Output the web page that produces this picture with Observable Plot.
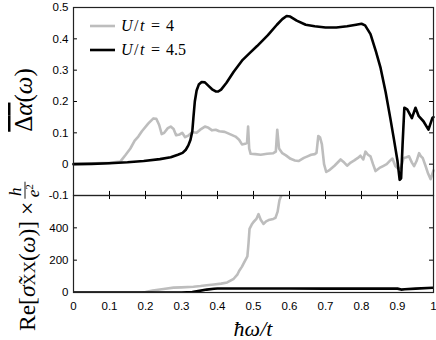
<!DOCTYPE html>
<html><head><meta charset="utf-8">
<script src="https://cdn.jsdelivr.net/npm/d3@7"></script>
<script src="https://cdn.jsdelivr.net/npm/@observablehq/plot@0.6"></script>
<style>
body{margin:0;background:#fff;}
#wrap{position:relative;width:436px;height:340px;overflow:hidden;background:#fff;}
#wrap svg{position:absolute;left:0;overflow:visible;background:transparent;}
</style></head><body><div id="wrap"></div>
<script>
// ---- tick values ----
const xTicks = [0, 0.1, 0.2, 0.3, 0.4, 0.5, 0.6, 0.7, 0.8, 0.9, 1];
const topYTicks = [-0.1, 0, 0.1, 0.2, 0.3, 0.4, 0.5];
const botYTicks = [0, 200, 400];
const seriesNames = ["U/t = 4", "U/t = 4.5"];
const seriesColors = ["#bdbdbd", "#000000"];

// ---- top panel: averaged Δα(ω) ----
const alphaU4 = [
  [0,0],[0.1,0.004],[0.13,0.008],[0.145,0.03],[0.158,0.05],[0.17,0.075],[0.18,0.088],[0.19,0.105],
  [0.208,0.13],[0.222,0.146],[0.23,0.145],[0.238,0.125],[0.245,0.096],[0.252,0.1],[0.262,0.115],
  [0.27,0.12],[0.278,0.112],[0.285,0.092],[0.295,0.095],[0.302,0.1],[0.31,0.086],[0.32,0.092],
  [0.33,0.102],[0.342,0.1],[0.352,0.11],[0.365,0.12],[0.375,0.116],[0.385,0.108],[0.395,0.11],
  [0.405,0.105],[0.42,0.103],[0.436,0.095],[0.45,0.088],[0.46,0.078],[0.468,0.063],[0.477,0.065],
  [0.482,0.068],[0.485,0.12],[0.488,0.05],[0.492,0.033],[0.505,0.032],[0.52,0.03],[0.538,0.033],
  [0.555,0.035],[0.562,0.04],[0.566,0.11],[0.571,0.05],[0.58,0.035],[0.59,0.028],[0.603,0.017],
  [0.615,0.012],[0.625,0.01],[0.64,0.02],[0.65,0.025],[0.66,0.03],[0.67,0.032],[0.675,0.036],
  [0.68,0.09],[0.685,0.085],[0.69,0.063],[0.696,0.0],[0.702,-0.025],[0.712,-0.018],[0.725,-0.005],
  [0.742,0.015],[0.752,0.005],[0.76,-0.005],[0.77,0.005],[0.78,0.012],[0.79,0.02],[0.797,0.027],
  [0.805,0.015],[0.811,0.04],[0.818,0.03],[0.825,0.025],[0.832,0.0],[0.839,-0.022],[0.85,-0.012],
  [0.86,-0.006],[0.87,0.0],[0.88,0.012],[0.886,0.018],[0.894,-0.006],[0.902,-0.015],[0.91,-0.01],
  [0.917,0.02],[0.925,0.022],[0.932,0.025],[0.94,0.005],[0.946,-0.006],[0.953,0.01],[0.96,0.035],
  [0.965,0.025],[0.97,0.02],[0.978,-0.006],[0.985,-0.03],[0.992,-0.048],[1.0,-0.02]
];
const alphaU45 = [
  [0,0],[0.05,0.001],[0.1,0.003],[0.15,0.006],[0.195,0.01],[0.24,0.016],[0.27,0.022],[0.29,0.03],
  [0.303,0.036],[0.312,0.046],[0.319,0.06],[0.325,0.078],[0.33,0.105],[0.333,0.147],[0.337,0.2],
  [0.342,0.235],[0.348,0.254],[0.356,0.262],[0.365,0.261],[0.375,0.25],[0.385,0.239],[0.395,0.232],
  [0.402,0.232],[0.41,0.238],[0.425,0.26],[0.445,0.295],[0.47,0.333],[0.49,0.355],[0.51,0.377],
  [0.54,0.412],[0.565,0.445],[0.58,0.463],[0.592,0.473],[0.602,0.471],[0.62,0.458],[0.645,0.445],
  [0.67,0.44],[0.7,0.436],[0.73,0.436],[0.76,0.44],[0.785,0.445],[0.8,0.448],[0.81,0.443],
  [0.825,0.415],[0.84,0.36],[0.853,0.307],[0.867,0.23],[0.88,0.147],[0.89,0.08],[0.9,0.01],
  [0.906,-0.05],[0.91,-0.045],[0.914,0.06],[0.919,0.18],[0.927,0.175],[0.94,0.147],[0.95,0.18],
  [0.959,0.153],[0.972,0.137],[0.986,0.11],[0.997,0.148],[1.0,0.15]
];

// ---- bottom panel: Re σxx(ω) × h/e² ----
const sigmaU4 = [
  [0,0],[0.19,0],[0.2,3],[0.22,12],[0.25,22],[0.278,30],[0.3,32],[0.333,36],[0.353,40],[0.37,45],
  [0.39,50],[0.41,55],[0.427,62],[0.445,85],[0.455,110],[0.46,133],[0.468,160],[0.473,182],
  [0.483,224],[0.486,300],[0.489,394],[0.495,420],[0.5,436],[0.508,455],[0.514,485],[0.52,450],
  [0.528,424],[0.535,440],[0.542,448],[0.555,455],[0.561,462],[0.567,500],[0.572,570],[0.578,605],
  [0.585,660],[0.59,640],[0.597,605],[0.605,700],[0.62,800]
];
const sigmaU45 = [
  [0,0],[0.3,0],[0.33,3],[0.35,10],[0.37,18],[0.39,23],[0.4,25],[0.5,25],[0.6,25],[0.7,24],
  [0.8,24],[0.9,24],[0.91,18],[0.92,20],[0.95,24],[1.0,30]
];

const toRows = (arr, s) => arr.map(([x, y]) => ({x, y, s}));
const fmtTop = d => d === 0 ? "0" : d.toFixed(1);
const fmtX = d => (d === 0 || d === 1) ? String(d) : d.toFixed(1);
const font = "'Liberation Sans', Arial, Helvetica, sans-serif";
const baseStyle = {fontFamily: font, fontSize: "11.5px", color: "#000", background: "transparent", overflow: "visible"};
const innerX = xTicks.filter(d => d > 0 && d < 1);

const topPlot = Plot.plot({
  width: 436, height: 205, marginTop: 7, marginBottom: 10, marginLeft: 73, marginRight: 3,
  style: baseStyle,
  x: {domain: [0, 1], axis: null},
  y: {domain: [-0.1, 0.5], ticks: topYTicks, tickSize: 0, tickPadding: 5, tickFormat: fmtTop, label: null},
  marks: [
    Plot.line(toRows(alphaU4, 0), {x: "x", y: "y", stroke: seriesColors[0], strokeWidth: 2.6}),
    Plot.line(toRows(alphaU45, 1), {x: "x", y: "y", stroke: seriesColors[1], strokeWidth: 2.6}),
    Plot.ruleY(topYTicks, {y: d => d, x1: 0, x2: 0.011, stroke: "#000"}),
    Plot.ruleY(topYTicks, {y: d => d, x1: 0.989, x2: 1, stroke: "#000"}),
    Plot.ruleX(innerX, {x: d => d, y1: -0.1, y2: -0.087, stroke: "#000"}),
    Plot.frame({stroke: "#222", strokeWidth: 1.2})
  ]
});

const botPlot = Plot.plot({
  width: 436, height: 146, marginTop: 1, marginBottom: 48, marginLeft: 73, marginRight: 3,
  style: baseStyle,
  x: {domain: [0, 1], ticks: xTicks, tickSize: 0, tickPadding: 9, tickFormat: fmtX, label: null},
  y: {domain: [0, 600], ticks: botYTicks, tickSize: 0, tickPadding: 5, label: null},
  marks: [
    Plot.line(toRows(sigmaU4, 0), {x: "x", y: "y", stroke: seriesColors[0], strokeWidth: 2.6, clip: true}),
    Plot.line(toRows(sigmaU45, 1), {x: "x", y: "y", stroke: seriesColors[1], strokeWidth: 2.6, clip: true}),
    Plot.ruleY(botYTicks.filter(d => d > 0), {y: d => d, x1: 0, x2: 0.011, stroke: "#000"}),
    Plot.ruleY(botYTicks.filter(d => d > 0), {y: d => d, x1: 0.989, x2: 1, stroke: "#000"}),
    Plot.ruleX(innerX, {x: d => d, y1: 600, y2: 575, stroke: "#000"}),
    Plot.frame({stroke: "#222", strokeWidth: 1.2})
  ]
});

const wrap = document.getElementById("wrap");
botPlot.style.top = "194px";
topPlot.style.top = "0px";
wrap.appendChild(botPlot);
wrap.appendChild(topPlot);

// ---- overlay: legend and axis titles ----
const NS = "http://www.w3.org/2000/svg";
const ov = document.createElementNS(NS, "svg");
ov.setAttribute("width", 436); ov.setAttribute("height", 340);
ov.style.top = "0px";
const serif = "'Liberation Serif', 'Times New Roman', serif";
let html = "";
seriesNames.forEach((name, i) => {
  const yLine = 26 + i * 24;
  const val = name.split(" = ")[1];
  html += `<line x1="90" x2="115" y1="${yLine}" y2="${yLine}" stroke="${seriesColors[i]}" stroke-width="2.6"/>`;
  html += `<text y="${yLine + 5}" font-family="${serif}" font-size="16" fill="#000">` +
    `<tspan x="121" font-style="italic">U</tspan><tspan dx="1.5">/</tspan><tspan dx="1.5" font-style="italic">t</tspan>` +
    `<tspan x="151">=</tspan><tspan x="166">${val}</tspan></text>`;
});
// x title
html += `<text x="253" y="336" text-anchor="middle" font-family="${serif}" font-size="22" font-style="italic" fill="#000">ħω/t</text>`;
// top y title
html += `<g transform="translate(32,100) rotate(-90)"><text text-anchor="middle" font-family="${serif}" font-size="25" fill="#000">` +
  `<tspan style="text-decoration:overline">Δ<tspan font-style="italic">α</tspan></tspan>(<tspan font-style="italic">ω</tspan>)</text></g>`;
// bottom y title
html += `<g id="btitle" transform="translate(35,331) rotate(-90)"><text id="bmain" x="0" y="0" font-family="${serif}" font-size="23.5" fill="#000">` +
  `Re[<tspan font-style="italic">σ̃</tspan><tspan font-size="17">XX</tspan>(<tspan font-style="italic">ω</tspan>)] ×</text></g>`;
ov.innerHTML = html;
wrap.appendChild(ov);
const bmain = ov.querySelector("#bmain");
const g = ov.querySelector("#btitle");
const fx = bmain.getComputedTextLength() + 3;
g.insertAdjacentHTML("beforeend",
  `<text x="${fx + 7}" y="-14" text-anchor="middle" font-family="${serif}" font-size="17" font-style="italic" fill="#000">h</text>` +
  `<line x1="${fx}" x2="${fx + 17}" y1="-10" y2="-10" stroke="#000" stroke-width="0.9"/>` +
  `<text x="${fx + 8}" y="4" text-anchor="middle" font-family="${serif}" font-size="17" fill="#000"><tspan font-style="italic">e</tspan><tspan font-size="11" dy="-6">2</tspan></text>`);
</script></body></html>
